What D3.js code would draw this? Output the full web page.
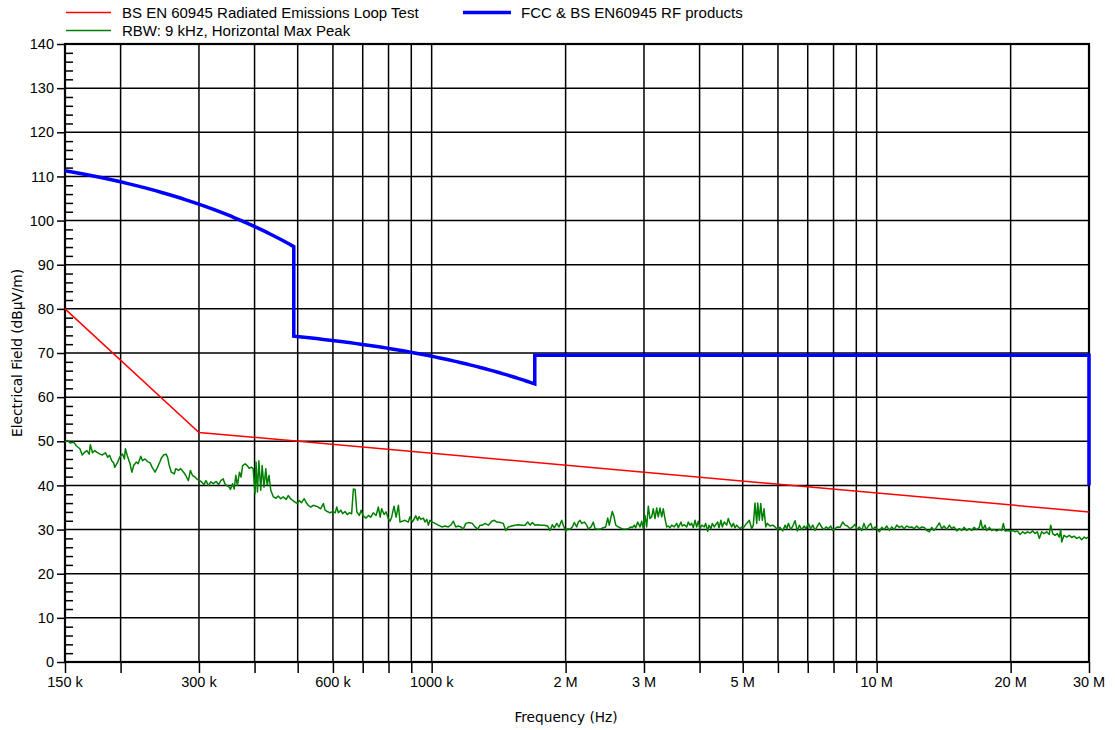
<!DOCTYPE html>
<html>
<head>
<meta charset="utf-8">
<script src="https://cdn.jsdelivr.net/npm/d3@7"></script>
<style>
  body { margin: 0; background: #fff; }
  svg { display: block; }
</style>
</head>
<body>
<script>
// ---- Limit lines (frequency in kHz, level in dBµV/m) ----
const en60945FreqKHz = [150, 300, 30000];
const en60945Level   = [80, 52, 34];

const fccFreqKHz = [150, 490, 490, 1705, 1705, 30000, 30000];
const fccLevel   = [111.3, 94.1, 73.8, 63.0, 69.5, 69.5, 40];

// ---- Measured trace: RBW 9 kHz, horizontal, max peak ----
const scanFreqKHz = [
  150,152,154,157,159,162,164,166,168,170,171,173,175,177,180,182,185,187,189,191,
  193,194,197,199,202,204,205,207,210,212,214,217,219,222,224,227,230,233,236,239,
  242,245,247,250,253,255,257,260,264,266,270,273,277,280,284,287,290,294,297,301,
  304,308,311,315,319,323,328,332,336,340,343,346,351,353,357,360,363,366,370,373,
  376,381,385,389,394,397,401,403,406,409,413,416,420,424,427,431,435,441,447,452,
  458,464,471,476,482,487,493,499,504,510,517,522,528,535,542,550,556,563,571,576,
  583,591,599,607,612,617,625,631,639,646,653,661,667,673,679,688,694,702,712,721,
  730,739,750,759,766,772,782,790,799,806,813,823,832,842,849,
  859,871,886,894,905,914,921,930,937,946,958,966,975,983,991,1004,1018,1035,1054,1072,
  1090,1106,1119,1133,1148,1164,1178,1193,1214,1234,1252,1269,1285,1300,1318,1341,1365,1383,1401,1425,
  1449,1467,1487,1513,1539,1566,1594,1621,1644,1664,1683,1707,1731,1761,1791,1823,1845,1867,1886,1910,
  1933,1960,1976,2001,2022,2046,2071,2092,2118,2136,2155,2174,2203,2231,2249,2281,2308,2329,2369,2402,
  2431,2461,2487,2507,2530,2547,2569,2592,2626,2673,2719,2766,2805,2824,2853,2874,2904,2939,2965,2989,
  3016,3042,3068,3095,3122,3148,3176,3204,3230,3259,3288,3315,3344,3374,3402,3432,3462,3509,3553,3583,
  3633,3658,3696,3742,3773,3806,3840,3872,3906,3940,3973,4008,4044,4098,4128,4171,4199,4243,4272,4316,
  4348,4393,4422,4468,4498,4545,4602,4640,4682,4723,4763,4805,4847,4888,4930,4974,5016,
  5104,5174,5238,5282,5328,5376,5404,5449,5488,5534,5583,5632,5678,5760,5841,5911,5981,6065,6151,6224,
  6280,6332,6411,6478,6555,6633,6702,6786,6867,6938,7022,7109,7183,7270,7357,7433,7526,7616,7695,7787,
  7885,7967,8062,8159,8274,8390,8490,8592,8714,8835,8940,9047,9141,9255,9365,9463,9577,9696,9796,9914,
  10036,10141,10267,10390,10537,10679,10812,10942,11097,11246,11387,11523,11685,11844,11992,12135,12306,12473,12628,12780,
  12959,13135,13299,13458,13648,13833,14005,14173,14372,14567,14746,14922,15132,15338,15530,15716,15936,16151,16353,16549,
  16781,17010,17133,17312,17518,17674,17914,18136,18354,18612,18864,19100,19258,19428,19662,19938,20218,20460,20706,20996,
  21292,21546,21806,22110,22422,22690,22959,23199,23487,23769,24102,24429,24606,24864,25161,25461,25725,25914,26049,26361,
  26730,27093,27432,27759,28149,28530,28887,29280,29583,29892
];
const scanLevel = [
  49.8,50.2,49.6,49.8,49.0,48.3,46.9,47.5,47.9,47.1,49.2,47.4,47.9,47.5,47.1,46.9,47.4,46.4,46.8,45.6,
  45.1,44.1,45.3,46.4,47.1,46.0,48.3,46.8,44.9,43.0,44.5,45.3,44.9,46.6,45.6,46.0,45.4,45.1,43.9,43.0,
  44.1,45.3,46.2,46.9,47.1,46.4,44.7,43.0,42.6,43.8,43.4,43.8,43.0,42.3,41.1,43.4,42.3,41.9,41.4,41.1,
  40.8,40.2,41.1,40.0,40.8,40.4,40.9,40.2,41.1,41.5,40.4,40.0,39.6,39.1,40.4,39.2,42.3,40.0,43.0,41.9,
  44.5,44.9,44.5,43.9,44.1,43.8,38.1,45.3,38.5,45.6,38.9,44.5,39.6,43.8,40.0,42.3,38.9,37.4,37.1,37.6,
  37.0,37.4,36.8,37.7,37.0,36.6,36.2,35.9,36.6,36.1,37.0,36.2,35.5,35.1,35.5,35.3,35.1,34.7,35.9,34.4,
  34.1,33.8,34.1,33.8,35.1,33.8,34.4,33.6,34.1,33.4,33.8,33.6,39.2,39.1,34.0,33.2,34.4,33.1,32.6,33.2,
  32.8,33.8,33.2,35.1,32.8,34.7,33.4,34.0,32.5,31.9,32.8,35.3,32.8,35.5,31.7,
  31.9,32.1,31.7,32.9,31.7,32.5,33.1,32.1,32.9,32.3,32.6,31.7,32.3,31.0,32.1,31.7,31.4,31.0,30.6,30.8,
  30.6,31.1,31.9,30.6,30.8,30.6,30.1,31.4,31.6,31.4,30.6,30.1,31.0,31.0,31.4,31.0,31.9,32.1,31.7,31.6,
  31.4,29.8,30.6,30.8,31.0,31.1,31.0,31.0,31.7,31.0,31.6,31.0,31.1,31.0,31.0,30.8,29.8,31.1,30.4,31.4,
  30.6,32.1,31.0,29.6,30.2,30.1,30.6,31.6,30.6,31.7,32.1,31.4,31.7,31.0,30.1,30.6,31.7,30.2,30.1,30.2,
  30.4,30.6,32.6,31.0,32.9,34.1,32.9,31.0,30.6,30.2,30.1,30.2,30.6,30.4,31.0,30.4,31.7,30.6,31.9,30.2,
  33.2,30.6,35.3,32.5,32.9,34.7,32.5,34.9,32.9,34.9,32.9,34.7,32.5,30.6,30.8,30.4,31.0,30.6,31.4,30.4,
  31.7,30.8,31.1,30.6,31.7,31.0,31.4,30.4,32.1,30.6,31.9,30.2,31.0,30.6,31.4,29.6,31.0,30.2,31.4,30.6,
  31.1,31.7,30.4,32.1,30.6,31.7,31.0,32.5,31.4,30.6,31.4,30.4,31.0,30.6,30.2,30.6,30.4,
  31.4,32.1,30.2,31.0,36.0,31.4,36.0,32.1,35.9,32.1,34.7,30.6,31.4,30.8,31.0,30.6,30.0,30.5,29.7,31.0,
  30.2,31.4,30.0,30.8,32.0,29.7,31.0,30.0,30.8,30.2,31.4,30.2,31.0,29.8,30.8,31.5,30.5,30.0,30.6,30.2,
  30.8,29.8,30.2,30.6,30.5,31.7,31.0,30.8,30.2,30.6,31.2,30.0,30.6,29.8,31.4,30.0,30.8,31.4,30.0,30.6,
  30.0,29.5,30.5,30.0,30.8,29.8,30.6,30.0,31.0,30.5,30.8,30.2,30.8,30.5,30.6,30.2,30.8,30.2,30.6,30.5,
  29.8,29.5,30.5,29.8,30.6,31.5,30.2,30.8,30.0,31.0,30.2,30.6,29.7,30.2,29.8,30.5,29.8,30.2,29.8,30.5,
  30.0,30.5,32.1,30.0,31.0,29.8,30.5,29.8,30.0,29.7,30.0,29.8,31.4,29.7,29.8,29.7,29.8,29.5,29.7,28.9,
  29.5,29.1,29.5,29.2,29.7,29.1,29.5,28.0,29.5,29.1,29.5,28.9,31.0,29.1,28.7,29.1,28.3,30.0,27.2,28.7,
  28.3,28.7,28.2,28.5,28.0,28.3,27.7,28.3,28.0,28.3
];

// ---- Axes ----
const yTickValues = [0, 10, 20, 30, 40, 50, 60, 70, 80, 90, 100, 110, 120, 130, 140];
const yMinorValues = [2,4,6,8,12,14,16,18,22,24,26,28,32,34,36,38,42,44,46,48,52,54,56,58,
  62,64,66,68,72,74,76,78,82,84,86,88,92,94,96,98,102,104,106,108,112,114,116,118,
  122,124,126,128,132,134,136,138];
const xGridKHz = [200, 300, 400, 500, 600, 700, 800, 900, 1000, 2000, 3000, 4000, 5000,
  6000, 7000, 8000, 9000, 10000, 20000, 30000];
const xTickKHz = [150, 200, 300, 400, 500, 600, 700, 800, 900, 1000, 2000, 3000, 4000, 5000,
  6000, 7000, 8000, 9000, 10000, 20000, 30000];
const xLabelKHz   = [150, 300, 600, 1000, 2000, 3000, 5000, 10000, 20000, 30000];
const xLabelTexts = ["150 k", "300 k", "600 k", "1000 k", "2 M", "3 M", "5 M", "10 M", "20 M", "30 M"];

const legendItems = [
  { label: "BS EN 60945 Radiated Emissions Loop Test", color: "#ff0000", width: 1.5 },
  { label: "FCC & BS EN60945 RF products", color: "#0000ff", width: 3.5 },
  { label: "RBW: 9 kHz, Horizontal Max Peak", color: "#008000", width: 1.5 }
];

const W = 1115, H = 730;
const plot = { left: 65, right: 1089, top: 44, bottom: 662 };

const x = d3.scaleLog().domain([150e3, 30e6]).range([plot.left, plot.right]);
const y = d3.scaleLinear().domain([0, 140]).range([plot.bottom, plot.top]);

const svg = d3.select("body").append("svg").attr("width", W).attr("height", H);

const labelFont = "'Liberation Sans', Arial, sans-serif";
const titleFont = "'DejaVu Sans', Verdana, sans-serif";

// Grid
const grid = svg.append("g").attr("stroke", "#000").attr("stroke-width", 1.5).attr("fill", "none");
grid.selectAll("line.h").data(yTickValues).join("line")
  .attr("x1", plot.left).attr("x2", plot.right)
  .attr("y1", d => y(d)).attr("y2", d => y(d));
grid.selectAll("line.v").data(xGridKHz).join("line")
  .attr("x1", d => x(d * 1000)).attr("x2", d => x(d * 1000))
  .attr("y1", plot.top).attr("y2", plot.bottom);

// Y axis: major ticks outward with labels, minor ticks inward
const yAxis = d3.axisLeft(y).tickValues(yTickValues).tickSize(8).tickPadding(3).tickFormat(d3.format("d"));
const gy = svg.append("g").attr("transform", `translate(${plot.left},0)`).call(yAxis);
gy.select(".domain").remove();
gy.selectAll(".tick line").attr("stroke", "#000").attr("stroke-width", 1.5);
gy.selectAll(".tick text").attr("font-family", labelFont).attr("font-size", "14.5px").attr("fill", "#000");

const yMinor = d3.axisRight(y).tickValues(yMinorValues).tickSize(8).tickFormat("");
const gym = svg.append("g").attr("transform", `translate(${plot.left},0)`).call(yMinor);
gym.select(".domain").remove();
gym.selectAll(".tick line").attr("stroke", "#000").attr("stroke-width", 1.5);

// X axis: ticks at every grid line, labels at selected decades
const xAxis = d3.axisBottom(x).tickValues(xTickKHz.map(d => d * 1000)).tickSize(11).tickFormat("");
const gx = svg.append("g").attr("transform", `translate(0,${plot.bottom})`).call(xAxis);
gx.select(".domain").remove();
gx.selectAll(".tick line").attr("stroke", "#000").attr("stroke-width", 1.5);

svg.append("g").selectAll("text").data(xLabelKHz).join("text")
  .attr("x", d => x(d * 1000)).attr("y", 687)
  .attr("text-anchor", "middle")
  .attr("font-family", labelFont).attr("font-size", "14.5px")
  .text((d, i) => xLabelTexts[i]);

// Frame
svg.append("rect")
  .attr("x", plot.left).attr("y", plot.top)
  .attr("width", plot.right - plot.left).attr("height", plot.bottom - plot.top)
  .attr("fill", "none").attr("stroke", "#000").attr("stroke-width", 2.2);

// Axis titles
svg.append("text").attr("x", 566).attr("y", 722).attr("text-anchor", "middle")
  .attr("font-family", titleFont).attr("font-size", "13.7px").text("Frequency (Hz)");
svg.append("text").attr("transform", "translate(22,353) rotate(-90)").attr("text-anchor", "middle")
  .attr("font-family", titleFont).attr("font-size", "13.7px").text("Electrical Field (dBµV/m)");

// Curve that joins points linearly in frequency (not in log-frequency)
function curveLinearInFrequency(scale) {
  return function (context) {
    let prev = null;
    return {
      areaStart() {}, areaEnd() {},
      lineStart() { prev = null; },
      lineEnd() {},
      point(px, py) {
        px = +px; py = +py;
        if (!prev) {
          context.moveTo(px, py);
        } else {
          const f0 = scale.invert(prev[0]), f1 = scale.invert(px);
          const steps = 60;
          for (let i = 1; i <= steps; i++) {
            const t = i / steps;
            context.lineTo(scale(f0 + t * (f1 - f0)), prev[1] + t * (py - prev[1]));
          }
        }
        prev = [px, py];
      }
    };
  };
}

const pts = (fs, ls) => fs.map((f, i) => [f * 1000, ls[i]]);
const lineLog = d3.line().x(d => x(d[0])).y(d => y(d[1]));
const lineFreq = d3.line().x(d => x(d[0])).y(d => y(d[1])).curve(curveLinearInFrequency(x));

// Measured trace
svg.append("path").datum(pts(scanFreqKHz, scanLevel))
  .attr("d", lineLog).attr("fill", "none")
  .attr("stroke", "#008000").attr("stroke-width", 1.5).attr("stroke-linejoin", "round");

// EN 60945 limit
svg.append("path").datum(pts(en60945FreqKHz, en60945Level))
  .attr("d", lineLog).attr("fill", "none")
  .attr("stroke", "#ff0000").attr("stroke-width", 1.5);

// FCC limit
svg.append("path").datum(pts(fccFreqKHz, fccLevel))
  .attr("d", lineFreq).attr("fill", "none")
  .attr("stroke", "#0000ff").attr("stroke-width", 3.5).attr("stroke-linejoin", "miter");

// Legend
const legendPos = [
  { lx: 66, ly: 12.5, len: 45, tx: 122, ty: 17.5 },
  { lx: 463, ly: 12.5, len: 48, tx: 521, ty: 17.5 },
  { lx: 66, ly: 30.5, len: 45, tx: 122, ty: 35.5 }
];
const lg = svg.append("g");
legendItems.forEach((item, i) => {
  const p = legendPos[i];
  lg.append("line").attr("x1", p.lx).attr("x2", p.lx + p.len).attr("y1", p.ly).attr("y2", p.ly)
    .attr("stroke", item.color).attr("stroke-width", item.width);
  lg.append("text").attr("x", p.tx).attr("y", p.ty)
    .attr("font-family", labelFont).attr("font-size", "15px").text(item.label);
});
</script>
</body>
</html>
